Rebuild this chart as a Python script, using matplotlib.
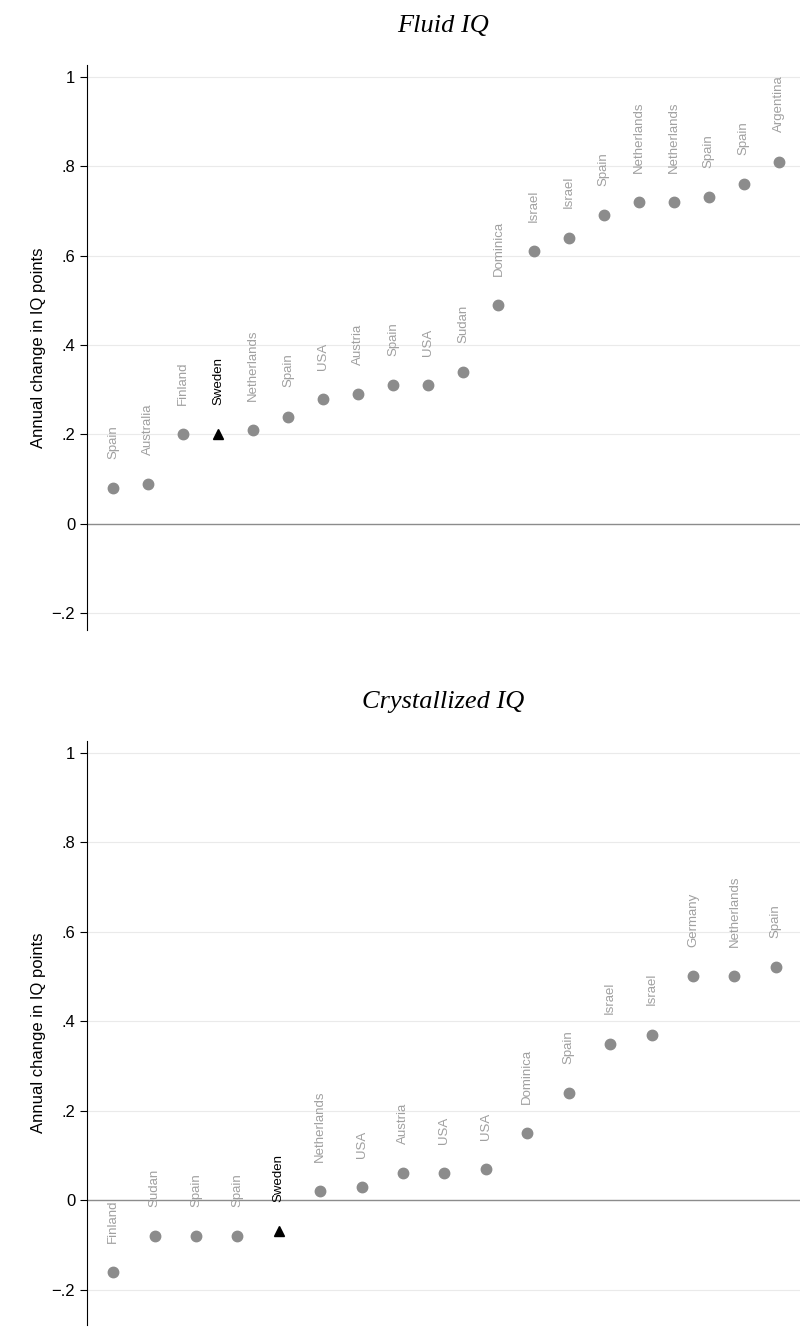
import numpy as np
import matplotlib.pyplot as plt

plt.rcParams['font.family'] = ['Liberation Sans', 'DejaVu Sans']

fluid_names = ['Spain', 'Australia', 'Finland', 'Sweden', 'Netherlands', 'Spain', 'USA',
               'Austria', 'Spain', 'USA', 'Sudan', 'Dominica', 'Israel', 'Israel', 'Spain',
               'Netherlands', 'Netherlands', 'Spain', 'Spain', 'Argentina']
fluid_vals = [0.08, 0.09, 0.20, 0.20, 0.21, 0.24, 0.28, 0.29, 0.31, 0.31, 0.34, 0.49,
              0.61, 0.64, 0.69, 0.72, 0.72, 0.73, 0.76, 0.81]

cryst_names = ['Finland', 'Sudan', 'Spain', 'Spain', 'Sweden', 'Netherlands', 'USA',
               'Austria', 'USA', 'USA', 'Dominica', 'Spain', 'Israel', 'Israel', 'Germany',
               'Netherlands', 'Spain']
cryst_vals = [-0.16, -0.08, -0.08, -0.08, -0.07, 0.02, 0.03, 0.06, 0.06, 0.07, 0.15,
              0.24, 0.35, 0.37, 0.50, 0.50, 0.52]

yticks = [-0.2, 0, 0.2, 0.4, 0.6, 0.8, 1]
ytick_labels = ['\u2212.2', '0', '.2', '.4', '.6', '.8', '1']

fig = plt.figure(figsize=(8.01, 13.31), dpi=100)

def panel(rect, names, vals, title, xlim, ylim):
    ax = fig.add_axes(rect)
    for i, (n, v) in enumerate(zip(names, vals)):
        if n == 'Sweden':
            ax.plot(i, v, '^', color='black', ms=7.5, zorder=3)
            c = 'black'
        else:
            ax.plot(i, v, 'o', color='#8c8c8c', ms=7.5, zorder=3)
            c = '#a0a0a0'
        ax.annotate(n, (i, v), xytext=(0, 21), textcoords='offset points',
                    rotation=90, ha='center', va='bottom', fontsize=9.5, color=c)
    ax.set_xlim(*xlim)
    ax.set_ylim(*ylim)
    ax.set_xticks([])
    ax.set_yticks(yticks)
    ax.set_yticklabels(ytick_labels, fontsize=12)
    for t in yticks:
        if t == 0:
            ax.axhline(0, color='#8c8c8c', lw=1, zorder=1)
        else:
            ax.axhline(t, color='#eaeaea', lw=0.8, zorder=0)
    for s in ['top', 'right', 'bottom']:
        ax.spines[s].set_visible(False)
    ax.tick_params(axis='y', length=5)
    ax.set_ylabel('Annual change in IQ points', fontsize=12)
    ax.set_title(title, fontsize=19, family='Liberation Serif', style='italic', pad=24)
    return ax

panel([0.1086, 0.5267, 0.89, 0.4245], fluid_names, fluid_vals, 'Fluid IQ',
      (-0.74, 19.6), (-0.237, 1.026))
panel([0.1086, 0.0045, 0.89, 0.4388], cryst_names, cryst_vals, 'Crystallized IQ',
      (-0.63, 16.58), (-0.279, 1.026))

fig.savefig('out.png', dpi=100)
